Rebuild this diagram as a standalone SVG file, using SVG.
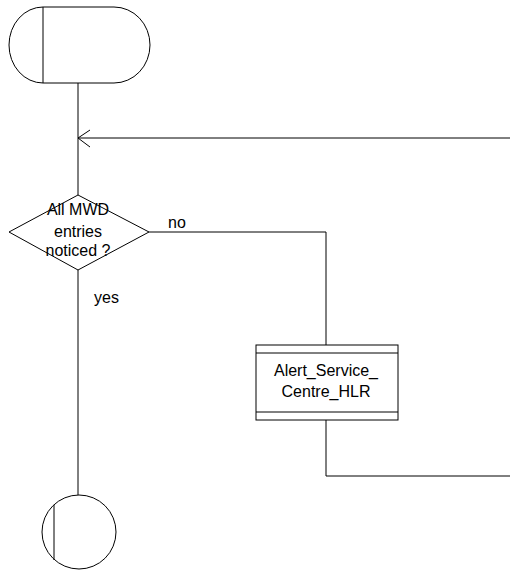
<svg xmlns="http://www.w3.org/2000/svg" width="510" height="572" viewBox="0 0 510 572">
<style>
.s{fill:none;stroke:#000;stroke-width:1}
.t{font-family:"Liberation Sans",Arial,sans-serif;font-size:16px;fill:#000}
.c{text-anchor:middle}
</style>
<rect width="510" height="572" fill="#fff"/>
<g id="start">
<path class="s" d="M43,7 L114,7 A36,38 0 0 1 114,83 L43,83 A34,38 0 0 1 43,7 Z"/>
<line class="s" x1="43" y1="7" x2="43" y2="83"/>
</g>
<g id="decision">
<polygon class="s" points="78,195 149,232 78,270 9,232"/>
<text class="t c" x="78" y="215">All MWD</text>
<text class="t c" x="78" y="237">entries</text>
<text class="t c" x="78" y="256">noticed ?</text>
</g>
<g id="alert">
<rect class="s" x="256" y="345" width="142" height="75"/>
<line class="s" x1="256" y1="353" x2="398" y2="353"/>
<line class="s" x1="256" y1="412" x2="398" y2="412"/>
<text class="t c" x="326" y="376">Alert_Service_</text>
<text class="t c" x="326" y="397">Centre_HLR</text>
</g>
<g id="end">
<circle class="s" cx="79" cy="532" r="37"/>
<line class="s" x1="54" y1="505" x2="54" y2="560"/>
</g>
<g id="connectors">
<line class="s" x1="78" y1="83" x2="78" y2="195"/>
<line class="s" x1="78" y1="138" x2="510" y2="138"/>
<polyline class="s" points="90,130 78,138 90,147"/>
<polyline class="s" points="149,232 326,232 326,345"/>
<polyline class="s" points="326,420 326,476 510,476"/>
<line class="s" x1="78" y1="270" x2="78" y2="495"/>
<text class="t" x="168" y="228">no</text>
<text class="t" x="94" y="303">yes</text>
</g>
</svg>
